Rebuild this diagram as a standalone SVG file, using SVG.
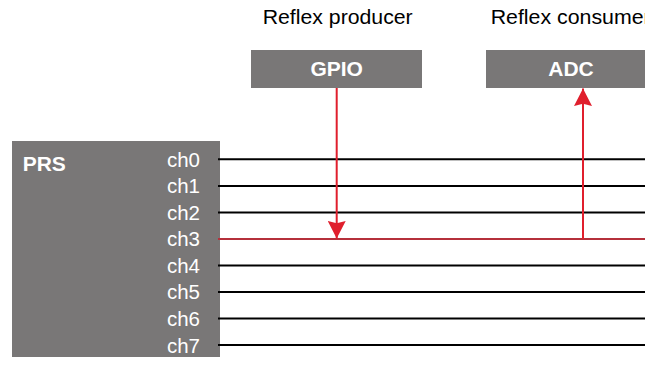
<svg xmlns="http://www.w3.org/2000/svg" width="645" height="366" viewBox="0 0 645 366">
<style>
.box{fill:#797777}
.lbl{font-family:"Liberation Sans",Arial,sans-serif;font-size:20px;fill:#000}
.btxt{font-family:"Liberation Sans",Arial,sans-serif;font-size:21px;font-weight:bold;fill:#fff}
.ch{font-family:"Liberation Sans",Arial,sans-serif;font-size:20.5px;fill:#fff;text-anchor:end}
.bus{stroke:#000;stroke-width:2;fill:none}
.sel{stroke:#b5303b;stroke-width:2.2;fill:none}
.arr{stroke:#e01f2d;stroke-width:2;fill:none}
</style>
<defs>
<marker id="ah" markerWidth="18" markerHeight="18" viewBox="0 0 17 17" refX="16.5" refY="8.5" orient="auto" markerUnits="userSpaceOnUse">
<path d="M0,0 L16.5,8.5 L0,17 L2,8.5 Z" fill="#e01f2d"/>
</marker>
</defs>
<text class="lbl" x="262.7" y="24" textLength="150" lengthAdjust="spacingAndGlyphs">Reflex producer</text>
<text class="lbl" x="490.7" y="24" textLength="160" lengthAdjust="spacingAndGlyphs">Reflex consumer</text>
<g id="gpio">
<rect class="box" x="251" y="50" width="171" height="38"/>
<text class="btxt" x="336.7" y="76" text-anchor="middle">GPIO</text>
</g>
<g id="adc">
<rect class="box" x="486" y="50" width="170" height="38"/>
<text class="btxt" x="571" y="76" text-anchor="middle">ADC</text>
</g>
<g id="prs">
<rect class="box" x="12" y="141" width="208" height="216"/>
<text class="btxt" x="22.7" y="170.7">PRS</text>
<text class="ch" x="200" y="166.7">ch0</text>
<text class="ch" x="200" y="193.2">ch1</text>
<text class="ch" x="200" y="219.8">ch2</text>
<text class="ch" x="200" y="246.3">ch3</text>
<text class="ch" x="200" y="272.9">ch4</text>
<text class="ch" x="200" y="299.4">ch5</text>
<text class="ch" x="200" y="326">ch6</text>
<text class="ch" x="200" y="352.5">ch7</text>
</g>
<g id="connectors">
<line class="bus" x1="218" y1="159.3" x2="645" y2="159.3"/>
<line class="bus" x1="218" y1="185.9" x2="645" y2="185.9"/>
<line class="bus" x1="218" y1="212.4" x2="645" y2="212.4"/>
<line class="sel" x1="218" y1="239" x2="645" y2="239"/>
<line class="bus" x1="218" y1="265.5" x2="645" y2="265.5"/>
<line class="bus" x1="218" y1="292" x2="645" y2="292"/>
<line class="bus" x1="218" y1="318.6" x2="645" y2="318.6"/>
<line class="bus" x1="218" y1="345.1" x2="645" y2="345.1"/>
<line class="arr" x1="336.7" y1="88" x2="336.7" y2="238.5" marker-end="url(#ah)"/>
<line class="arr" x1="583" y1="239" x2="583" y2="88.5" marker-end="url(#ah)" stroke="#e8414f"/>
</g>
</svg>
